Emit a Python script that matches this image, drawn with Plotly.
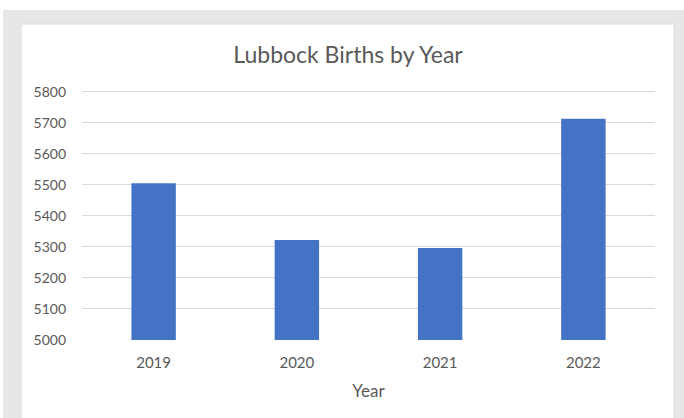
import plotly.graph_objects as go

years = ["2019", "2020", "2021", "2022"]
births = [5505, 5322, 5297, 5713]
y_ticks = [5000, 5100, 5200, 5300, 5400, 5500, 5600, 5700, 5800]

W, H = 684, 418
L, R, T, B = 82, 29, 90, 78
pw, ph = W - L - R, H - T - B

def px(x):
    return (x - L) / pw

def py(y):
    return (H - B - y) / ph

fig = go.Figure(go.Bar(x=years, y=births, marker=dict(color="#4472c4", line=dict(width=0))))

fig.update_layout(
    width=W, height=H,
    margin=dict(l=L, r=R, t=T, b=B),
    paper_bgcolor="white", plot_bgcolor="white",
    bargap=0.69,
    showlegend=False,
    font=dict(family="Lato, Open Sans, sans-serif", color="#595959"),
    title=dict(text="Lubbock Births by Year", x=px(348), xref="paper", xanchor="center",
               y=1 - 55 / H, yanchor="middle", font=dict(size=23, color="#595959")),
    xaxis=dict(showgrid=False, showline=False, ticks="", tickfont=dict(size=15),
               ticklabelstandoff=12,
               title=dict(text="Year", font=dict(size=17, color="#595959"), standoff=15)),
    yaxis=dict(range=[5000, 5806], tickvals=y_ticks, showgrid=True, gridcolor="#d9d9d9",
               gridwidth=1, zeroline=False, showline=False, tickfont=dict(size=14),
               ticklabelstandoff=15),
    shapes=[
        dict(type="rect", xref="paper", yref="paper", x0=px(3), x1=px(W + 2), y0=py(H + 2), y1=py(10),
             fillcolor="#e7e7e8", line=dict(width=0), layer="below"),
        dict(type="rect", xref="paper", yref="paper", x0=px(21), x1=px(674), y0=py(H + 2), y1=py(24),
             fillcolor="white", line=dict(width=1, color="#dcdcdc"), layer="below"),
    ],
)

fig.write_html("out.html")
